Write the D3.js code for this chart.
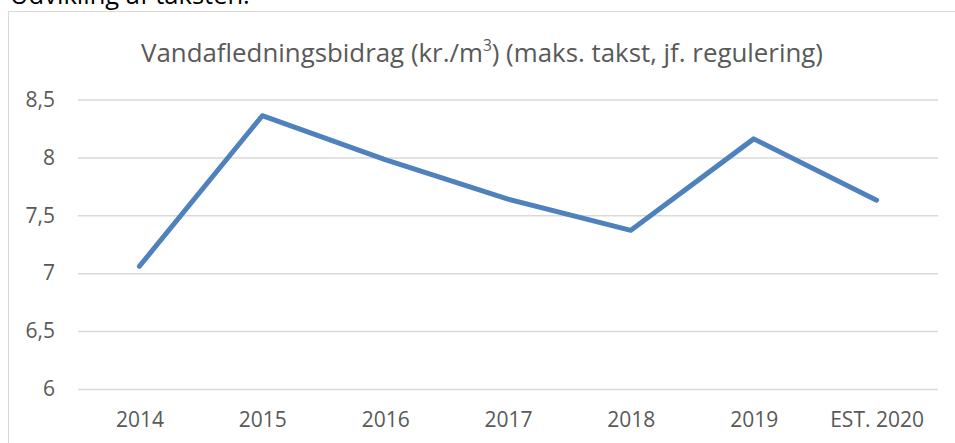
<!DOCTYPE html>
<html>
<head>
<meta charset="utf-8">
<script src="https://cdn.jsdelivr.net/npm/d3@7"></script>
<style>
  body { margin: 0; background: #fff; }
  text { font-family: "Open Sans", "Noto Sans", sans-serif; }
</style>
</head>
<body>
<div id="chart"></div>
<script>
var svgWidth = 955;
var svgHeight = 443;

// data
var categories = ["2014", "2015", "2016", "2017", "2018", "2019", "EST. 2020"];
var values = [7.06, 8.36, 7.98, 7.64, 7.37, 8.16, 7.63];
var yTicks = [6, 6.5, 7, 7.5, 8, 8.5];

var plot = { left: 78, right: 938, top: 99.5, bottom: 389 };

var svg = d3.select("#chart")
  .append("svg")
  .attr("width", svgWidth)
  .attr("height", svgHeight);

// fit a text element to a target width by changing its font size
function fitWidth(sel, target) {
  var size = parseFloat(sel.attr("font-size"));
  var w = sel.node().getComputedTextLength();
  sel.attr("font-size", (size * target / w).toFixed(2));
}

// heading above the chart (cut off at the top, as in the source)
var heading = svg.append("text")
  .attr("x", 10)
  .attr("y", 4)
  .attr("font-size", 24)
  .attr("fill", "#000")
  .text("Udvikling af taksten.");
fitWidth(heading, 240);

// chart frame
svg.append("rect")
  .attr("x", 8.5)
  .attr("y", 11.5)
  .attr("width", 960)
  .attr("height", 440)
  .attr("fill", "none")
  .attr("stroke", "#d9d9d9")
  .attr("stroke-width", 1);

var xScale = d3.scalePoint()
  .domain(categories)
  .range([plot.left, plot.right])
  .padding(0.5);

var yScale = d3.scaleLinear()
  .domain([6, 8.5])
  .range([plot.bottom, plot.top]);

var locale = d3.formatLocale({ decimal: ",", thousands: ".", grouping: [3], currency: ["", " kr."] });
var fmt = locale.format("~g");

// y axis with gridlines
var yAxis = svg.append("g")
  .attr("transform", `translate(${plot.left}, 0)`)
  .call(d3.axisLeft(yScale)
    .tickValues(yTicks)
    .tickFormat(fmt)
    .tickSizeInner(-(plot.right - plot.left))
    .tickSizeOuter(0)
    .tickPadding(23));
yAxis.select(".domain").remove();
yAxis.selectAll(".tick line")
  .attr("stroke", "#d9d9d9")
  .attr("stroke-width", 1.5);
yAxis.selectAll(".tick text")
  .attr("fill", "#595959")
  .attr("font-size", 21)
  .attr("font-family", "Open Sans");

// x axis labels
var xAxis = svg.append("g")
  .attr("transform", `translate(0, ${plot.bottom})`)
  .call(d3.axisBottom(xScale).tickSize(0).tickPadding(23));
xAxis.select(".domain").remove();
xAxis.selectAll(".tick text")
  .attr("fill", "#595959")
  .attr("font-size", 21)
  .attr("font-family", "Open Sans");

// the line
var line = d3.line()
  .x((d, i) => xScale(categories[i]))
  .y(d => yScale(d));

svg.append("path")
  .datum(values)
  .attr("d", line)
  .attr("fill", "none")
  .attr("stroke", "#4f81bd")
  .attr("stroke-width", 5)
  .attr("stroke-linejoin", "round")
  .attr("stroke-linecap", "round");

// title
var title = svg.append("text")
  .attr("x", 482)
  .attr("y", 62)
  .attr("text-anchor", "middle")
  .attr("font-size", 25)
  .attr("fill", "#595959");
title.append("tspan").text("Vandafledningsbidrag (kr./m");
title.append("tspan").attr("baseline-shift", "super").attr("font-size", "60%").text("3");
title.append("tspan").text(") (maks. takst, jf. regulering)");
fitWidth(title, 682);
</script>
</body>
</html>
